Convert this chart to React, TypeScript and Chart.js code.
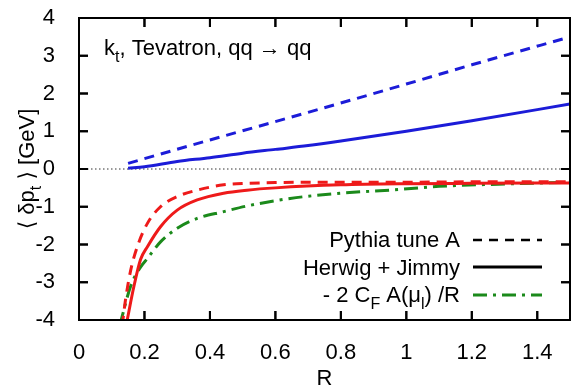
import React, { useEffect, useRef } from "react";
import { Chart, registerables } from "chart.js";

Chart.register(...registerables);

// ---- data ----
const xTicks = [0, 0.2, 0.4, 0.6, 0.8, 1.0, 1.2, 1.4];
const yTicks = [-4, -3, -2, -1, 0, 1, 2, 3, 4];

const pythiaPosR = [0.15, 0.4, 0.7, 1.0, 1.2, 1.5];
const pythiaPosV = [0.15, 0.77, 1.5, 2.25, 2.76, 3.5];

const herwigPosR = [0.15, 0.2, 0.3, 0.4, 0.5, 0.6, 0.7, 0.8, 1.0, 1.2, 1.5];
const herwigPosV = [0.02, 0.06, 0.2, 0.3, 0.42, 0.52, 0.62, 0.74, 1.0, 1.28, 1.72];

const pythiaNegR = [0.132, 0.142, 0.158, 0.178, 0.209, 0.249, 0.3, 0.361, 0.442, 0.513, 0.6, 0.8, 1.0, 1.2, 1.5];
const pythiaNegV = [-4.15, -3.47, -2.68, -2.06, -1.44, -1.0, -0.73, -0.56, -0.42, -0.38, -0.36, -0.35, -0.35, -0.34, -0.34];

const herwigNegR = [0.145, 0.168, 0.188, 0.209, 0.249, 0.3, 0.361, 0.442, 0.513, 0.6, 0.8, 1.0, 1.2, 1.5];
const herwigNegV = [-4.1, -3.1, -2.4, -2.06, -1.53, -1.09, -0.82, -0.64, -0.56, -0.5, -0.42, -0.39, -0.38, -0.37];

const analyticR = [0.125, 0.132, 0.158, 0.188, 0.209, 0.249, 0.3, 0.361, 0.442, 0.513, 0.645, 0.8, 0.95, 1.1, 1.25, 1.5];
const analyticV = [-4.15, -3.9, -3.1, -2.6, -2.37, -1.93, -1.57, -1.31, -1.13, -0.98, -0.78, -0.64, -0.56, -0.46, -0.41, -0.35];

const legendLabels = ["Pythia tune A", "Herwig + Jimmy"];

const BLUE = "#1c1cd8";
const RED = "#ee1a1a";
const GREEN = "#1b8a1b";
const FONT = "'Liberation Sans', Arial, 'DejaVu Sans', sans-serif";

const pts = (r: number[], v: number[]) => r.map((x, i) => ({ x, y: v[i] }));

type Seg = { t: string; sub?: boolean };

function segWidth(ctx: CanvasRenderingContext2D, segs: Seg[], size: number) {
  let w = 0;
  for (const s of segs) {
    ctx.font = `${s.sub ? Math.round(size * 0.72) : size}px ${FONT}`;
    w += ctx.measureText(s.t).width;
  }
  return w;
}

function drawSegs(ctx: CanvasRenderingContext2D, segs: Seg[], x: number, y: number, size: number) {
  let cx = x;
  ctx.textAlign = "left";
  ctx.textBaseline = "alphabetic";
  for (const s of segs) {
    const fs = s.sub ? Math.round(size * 0.72) : size;
    ctx.font = `${fs}px ${FONT}`;
    ctx.fillText(s.t, cx, s.sub ? y + size * 0.3 : y);
    cx += ctx.measureText(s.t).width;
  }
}

function drawFrame(ctx: CanvasRenderingContext2D, chart: any) {
  const a = chart.chartArea;
  const sx = chart.scales.x;
  const sy = chart.scales.y;
  ctx.save();
  ctx.setLineDash([]);
  ctx.strokeStyle = "#000";
  ctx.lineWidth = 2;
  ctx.strokeRect(a.left, a.top, a.right - a.left, a.bottom - a.top);
  ctx.fillStyle = "#000";
  const tl = 9;
  xTicks.forEach((v) => {
    const px = sx.getPixelForValue(v);
    if (px <= a.left + 1) return;
    ctx.fillRect(px - 1, a.bottom - tl, 2, tl);
    ctx.fillRect(px - 1, a.top, 2, tl);
  });
  yTicks.forEach((v) => {
    const py = sy.getPixelForValue(v);
    if (py <= a.top + 1 || py >= a.bottom - 1) return;
    ctx.fillRect(a.left, py - 1, tl, 2);
    ctx.fillRect(a.right - tl, py - 1, tl, 2);
  });
  ctx.restore();
}

const zeroLinePlugin = {
  id: "zeroLine",
  beforeDatasetsDraw(chart: any) {
    const { ctx, chartArea: a, scales } = chart;
    const y0 = scales.y.getPixelForValue(0);
    ctx.save();
    ctx.strokeStyle = "#333";
    ctx.lineWidth = 1;
    ctx.setLineDash([1.5, 2.5]);
    ctx.beginPath();
    ctx.moveTo(a.left, y0);
    ctx.lineTo(a.right, y0);
    ctx.stroke();
    ctx.restore();
  },
};

const textPlugin = {
  id: "texts",
  afterDraw(chart: any) {
    const { ctx, chartArea: a } = chart;
    ctx.save();
    const size = 22;
    const rows: { segs: Seg[]; dash: number[]; color: string; width: number }[] = [
      { segs: [{ t: legendLabels[0] }], dash: [9, 7], color: "#000", width: 2.5 },
      { segs: [{ t: legendLabels[1] }], dash: [], color: "#000", width: 3 },
      {
        segs: [{ t: "- 2 C" }, { t: "F", sub: true }, { t: " A(μ" }, { t: "l", sub: true }, { t: ") /R" }],
        dash: [14, 6, 3, 6],
        color: GREEN,
        width: 3,
      },
    ];
    const baselines = [247, 275, 302];
    const lineYs = [240, 267, 295];
    rows.forEach((r, i) => {
      ctx.fillStyle = "#000";
      const w = segWidth(ctx, r.segs, size);
      drawSegs(ctx, r.segs, 460 - w, baselines[i], size);
      ctx.strokeStyle = r.color;
      ctx.lineWidth = r.width;
      ctx.setLineDash(r.dash);
      ctx.beginPath();
      ctx.moveTo(473, lineYs[i]);
      ctx.lineTo(542, lineYs[i]);
      ctx.stroke();
    });
    ctx.setLineDash([]);
    ctx.fillStyle = "#000";

    drawSegs(ctx, [{ t: "k" }, { t: "t", sub: true }, { t: ", Tevatron, qq → qq" }], 104, 55, size);

    ctx.font = `${size}px ${FONT}`;
    ctx.textAlign = "center";
    ctx.textBaseline = "alphabetic";
    ctx.fillText("R", (a.left + a.right) / 2, 385);

    const ySegs: Seg[] = [{ t: "⟨ δp" }, { t: "t", sub: true }, { t: " ⟩ [GeV]" }];
    const yw = segWidth(ctx, ySegs, size);
    ctx.translate(34, (a.top + a.bottom) / 2);
    ctx.rotate(-Math.PI / 2);
    drawSegs(ctx, ySegs, -yw / 2, 0, size);
    ctx.restore();
    drawFrame(ctx, chart);
  },
};

export default function App() {
  const ref = useRef<HTMLCanvasElement>(null);
  const overlayRef = useRef<HTMLCanvasElement>(null);
  useEffect(() => {
    document.body.style.margin = "0";
    const ds = (label: string, r: number[], v: number[], color: string, dash: number[]) => ({
      label,
      data: pts(r, v),
      borderColor: color,
      backgroundColor: color,
      borderWidth: 3,
      borderDash: dash,
      pointRadius: 0,
      cubicInterpolationMode: "monotone" as const,
      fill: false,
    });
    const chart = new Chart(ref.current!, {
      type: "line",
      data: {
        datasets: [
          ds("Pythia +", pythiaPosR, pythiaPosV, BLUE, [10, 7]),
          ds("Herwig +", herwigPosR, herwigPosV, BLUE, []),
          ds("Pythia -", pythiaNegR, pythiaNegV, RED, [10, 7]),
          ds("Herwig -", herwigNegR, herwigNegV, RED, []),
          ds("analytic", analyticR, analyticV, GREEN, [14, 6, 3, 6]),
        ],
      },
      options: {
        animation: false,
        responsive: false,
        devicePixelRatio: 1,
        layout: { padding: { top: 18, right: 3 } },
        plugins: { legend: { display: false } },
        scales: {
          x: {
            type: "linear",
            min: 0,
            max: 1.5,
            grid: { display: false },
            border: { display: true, color: "#000", width: 2 },
            afterBuildTicks: (s: any) => {
              s.ticks = xTicks.map((v) => ({ value: v }));
            },
            afterFit: (s: any) => {
              s.height = 70;
              s.paddingLeft = 0;
              s.paddingRight = 0;
            },
            ticks: {
              padding: 12,
              maxRotation: 0,
              autoSkip: false,
              color: "#000",
              font: { family: FONT, size: 22 },
              callback: (v: any) => String(Math.round(Number(v) * 10) / 10),
            },
          },
          y: {
            type: "linear",
            min: -4,
            max: 4,
            grid: { display: false },
            border: { display: true, color: "#000", width: 2 },
            afterBuildTicks: (s: any) => {
              s.ticks = yTicks.map((v) => ({ value: v }));
            },
            afterFit: (s: any) => {
              s.width = 79;
              s.paddingTop = 0;
              s.paddingBottom = 0;
            },
            ticks: {
              padding: 16,
              autoSkip: false,
              color: "#000",
              font: { family: FONT, size: 22 },
              callback: (v: any) => String(v),
            },
          },
        },
      },
      plugins: [zeroLinePlugin, textPlugin],
    });
    // frame and inward ticks also drawn on a transparent overlay from the chart's own scales
    const ov = overlayRef.current;
    if (ov) {
      const octx = ov.getContext("2d");
      if (octx) {
        octx.clearRect(0, 0, ov.width, ov.height);
        drawFrame(octx, chart);
      }
    }
    return () => chart.destroy();
  }, []);
  return (
    <div style={{ position: "absolute", left: 0, top: 0, width: 573, height: 390, background: "#fff" }}>
      <canvas ref={ref} width={573} height={390} style={{ display: "block", position: "absolute", left: 0, top: 0 }} />
      <canvas
        ref={overlayRef}
        width={573}
        height={390}
        style={{ display: "block", position: "absolute", left: 0, top: 0, pointerEvents: "none" }}
      />
    </div>
  );
}
